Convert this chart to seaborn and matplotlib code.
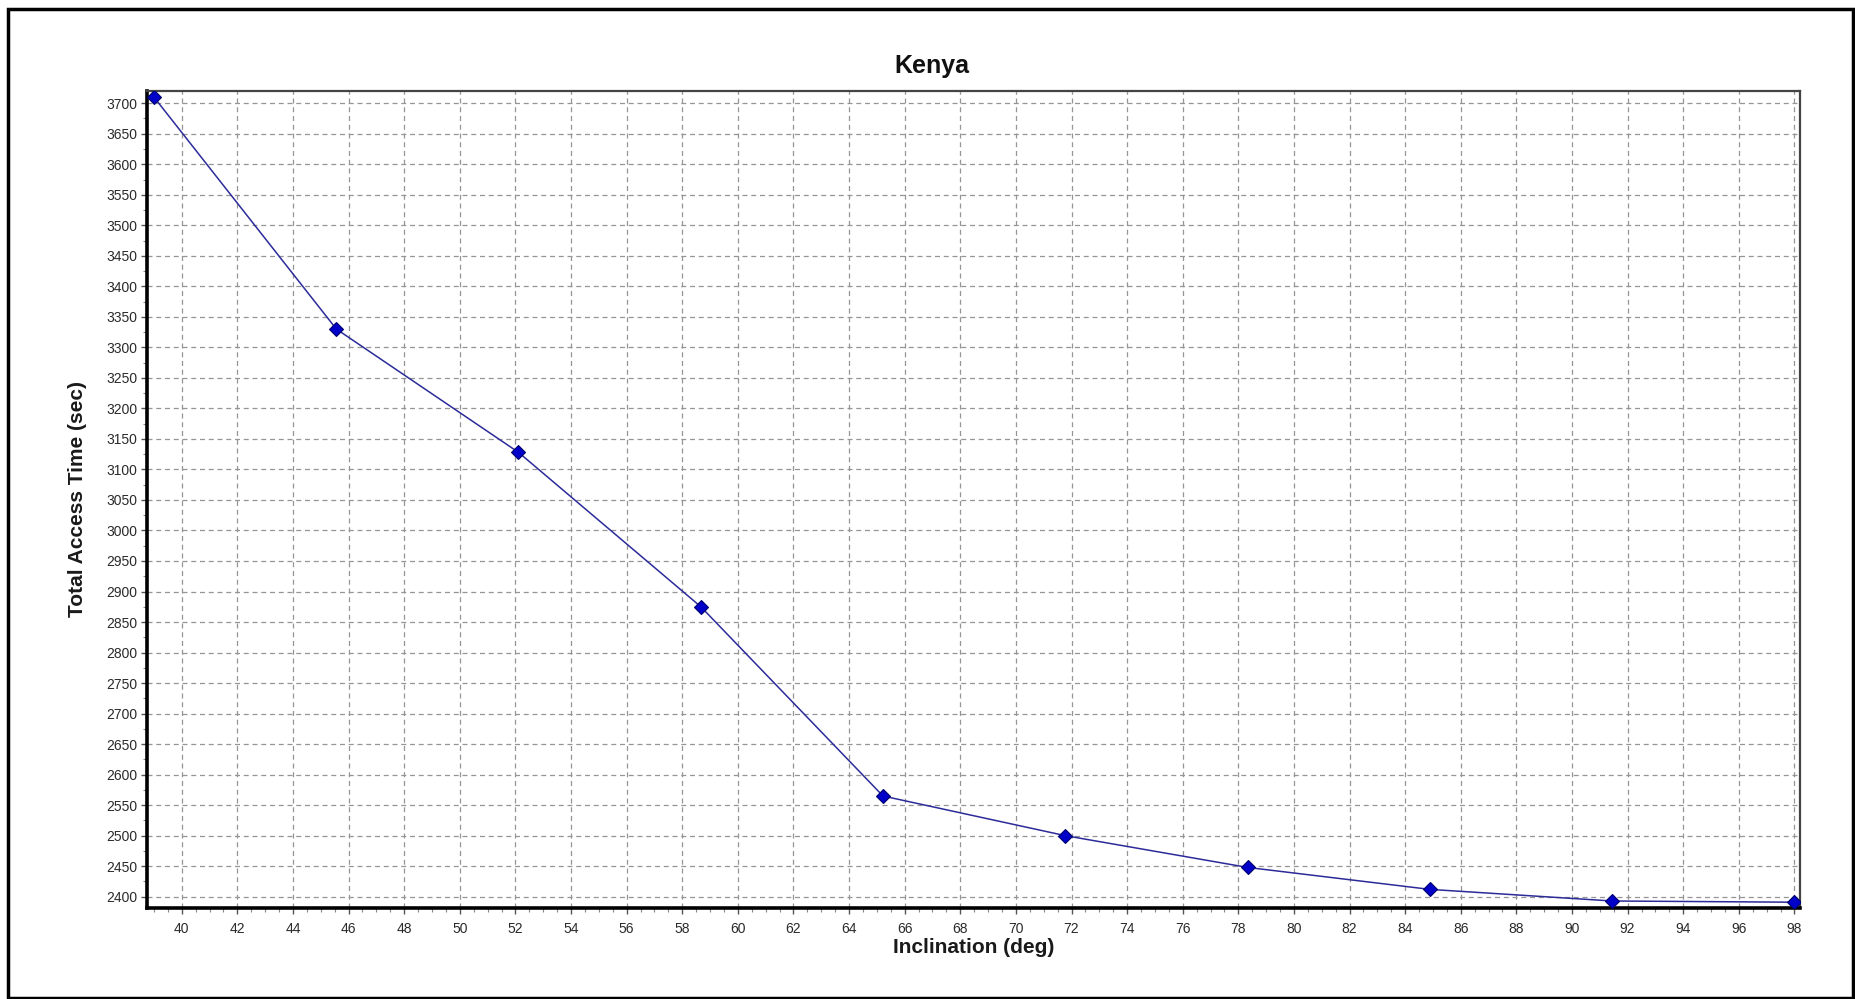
import matplotlib
matplotlib.use("Agg")
import matplotlib.pyplot as plt
from matplotlib.patches import Rectangle
from matplotlib.ticker import MultipleLocator
import numpy as np
import pandas as pd
import seaborn as sns

# Orbit inclination sweep and resulting total access time over Kenya
inclination_deg = [39.0, 45.56, 52.11, 58.67, 65.22, 71.78, 78.33, 84.89, 91.44, 98.0]
access_time_sec = [3710, 3330, 3128, 2875, 2565, 2500, 2448, 2412, 2393, 2391]

title = "Kenya"
x_label = "Inclination (deg)"
y_label = "Total Access Time (sec)"

sns.set_theme(style="white")
plt.rcParams["font.family"] = ["Liberation Sans", "DejaVu Sans"]

df = pd.DataFrame({"inc": inclination_deg, "t": access_time_sec})

fig = plt.figure(figsize=(18.56, 9.99), dpi=100)
ax = fig.add_axes([147 / 1856, 1 - 907.7 / 999, (1800 - 147) / 1856, (907.7 - 91) / 999])

sns.lineplot(data=df, x="inc", y="t", ax=ax, color="#2b2b9a", linewidth=1.1,
             marker="D", markersize=7, markerfacecolor="#0000c8",
             markeredgecolor="#00006e", markeredgewidth=0.8, zorder=3)

ax.set_xlim(38.75, 98.2)
ax.set_ylim(2382, 3720)

ax.xaxis.set_major_locator(MultipleLocator(2))
ax.xaxis.set_minor_locator(MultipleLocator(0.5))
ax.yaxis.set_major_locator(MultipleLocator(50))
ax.yaxis.set_minor_locator(MultipleLocator(25))

ax.grid(True, which="major", color="#959595", linestyle=(0, (4, 3)), linewidth=0.9)
ax.set_axisbelow(True)

ax.tick_params(axis="both", which="major", direction="out", length=4, width=1,
               color="#555555", labelsize=10, labelcolor="#2a2a2a", pad=3,
               bottom=True, left=True)
ax.tick_params(axis="both", which="minor", direction="out", length=3, width=0.8,
               color="#888888", bottom=True, left=True)
ax.tick_params(axis="x", which="major", pad=6)

for side in ("left", "bottom"):
    ax.spines[side].set_color("black")
    ax.spines[side].set_linewidth(2.6)
for side in ("top", "right"):
    ax.spines[side].set_color("#444444")
    ax.spines[side].set_linewidth(1.6)

ax.set_xlabel(x_label, fontsize=15, fontweight="bold", color="#1a1a1a", labelpad=2)
ax.set_ylabel(y_label, fontsize=15, fontweight="bold", color="#1a1a1a", labelpad=14)
fig.text(0.502, 1 - 66 / 999, title, ha="center", va="center",
         fontsize=18, fontweight="bold", color="#111111")

# outer frame around the whole figure
fig.patches.append(Rectangle((8.5 / 1856, 1.5 / 999), (1853 - 8.5) / 1856, (990.5 - 1.5) / 999,
                             transform=fig.transFigure, fill=False,
                             edgecolor="black", linewidth=2.5))

fig.savefig("out.png", dpi=100, facecolor="white")
